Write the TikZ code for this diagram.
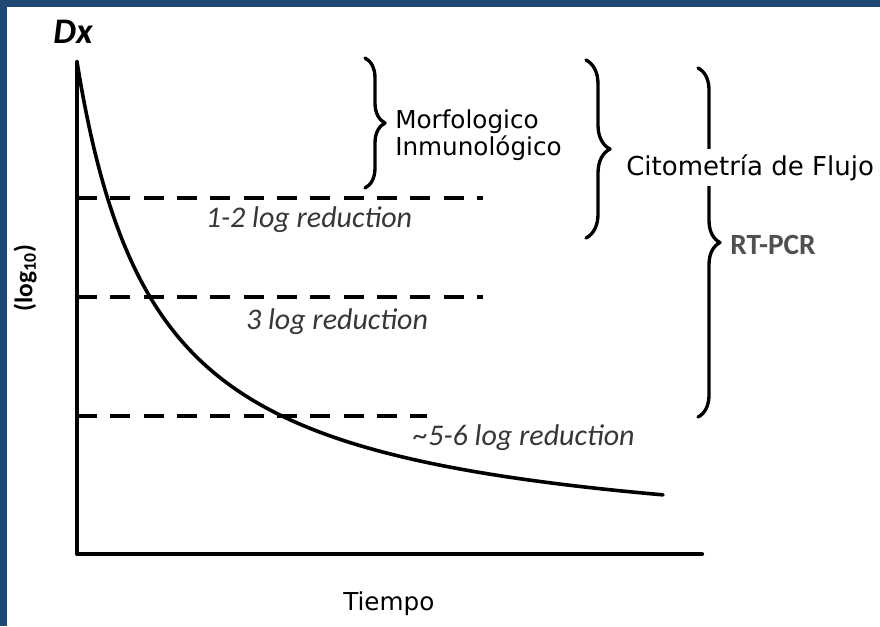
\documentclass[tikz,border=0pt]{standalone}
\usepackage{fontspec}
\setmainfont{DejaVu Sans}
\newfontfamily\carlito{Carlito}
\usepackage{tikz}
\usetikzlibrary{decorations.pathreplacing}
\definecolor{frameblue}{RGB}{31,73,115}
\definecolor{labelgray}{RGB}{55,55,55}
\definecolor{pcrgray}{RGB}{80,80,80}

\begin{document}
\begin{tikzpicture}[line cap=round,line join=round,x=0.75pt,y=-0.75pt,
  axisline/.style={line width=3.2pt},
  levelline/.style={line width=3pt,line cap=butt,dash pattern=on 15pt off 10pt},
  redlabel/.style={font=\carlito\itshape\fontsize{22.5}{26}\selectfont,text=labelgray},
  methodlabel/.style={font=\fontsize{18.5}{22}\selectfont,inner sep=0pt},
  mbrace/.style={decorate,decoration={brace,amplitude=#1},line width=2.5pt}]
\useasboundingbox (0,0) rectangle (880,626);
\fill[white] (0,0) rectangle (880,626);
\fill[frameblue] (0,0) rectangle (880,7);
\fill[frameblue] (0,0) rectangle (7,626);
% axes
\coordinate (ytop) at (77,62);
\coordinate (origin) at (77,554);
\coordinate (xend) at (702,554);
\draw[axisline] (ytop) -- (origin) -- (xend);
% reduction levels
\coordinate (lvAa) at (77,198);
\coordinate (lvAb) at (483,198);
\coordinate (lvBa) at (77,297);
\coordinate (lvBb) at (483,297);
\coordinate (lvCa) at (77,416);
\coordinate (lvCb) at (427,416);
\draw[levelline] (lvAa) -- (lvAb);
\draw[levelline] (lvBa) -- (lvBb);
\draw[levelline] (lvCa) -- (lvCb);
% decay curve
\draw[line width=2.7pt] plot[domain=77:663,samples=150,smooth] (\x,{553.8-392.5/((\x+2.8)/100)});
% braces
\draw[mbrace=15pt] (365,58) -- (365,188);
\draw[mbrace=18pt] (586,60) -- (586,238);
\draw[mbrace=16.5pt] (698,68) -- (698,417);
% labels
\node[anchor=base,font=\carlito\bfseries\itshape\fontsize{27}{32}\selectfont] (dx) at (73,43) {Dx};
\node[rotate=90,font=\carlito\bfseries\fontsize{19}{22}\selectfont] (ylab) at (25,278) {(log\textsubscript{10})};
\node[redlabel] (redA) at (309,220) {1-2 log reduction};
\node[redlabel] (redB) at (337,322) {3 log reduction};
\node[redlabel] (redC) at (524,438) {\textasciitilde5-6 log reduction};
\node[methodlabel,anchor=base west] (morf) at (395,128) {Morfologico};
\node[methodlabel,anchor=base west] (inmuno) at (395,155) {Inmunológico};
\node[methodlabel,font=\fontsize{19.5}{22}\selectfont,anchor=base west,fill=white,inner ysep=4pt] (cito) at (626,175) {Citometría de Flujo};
\node[font=\carlito\bfseries\fontsize{22}{26}\selectfont,text=pcrgray,anchor=west,inner sep=0pt] (rtpcr) at (730,245) {RT-PCR};
\node[methodlabel,anchor=base west] (tiempo) at (343,610) {Tiempo};
\end{tikzpicture}
\end{document}
